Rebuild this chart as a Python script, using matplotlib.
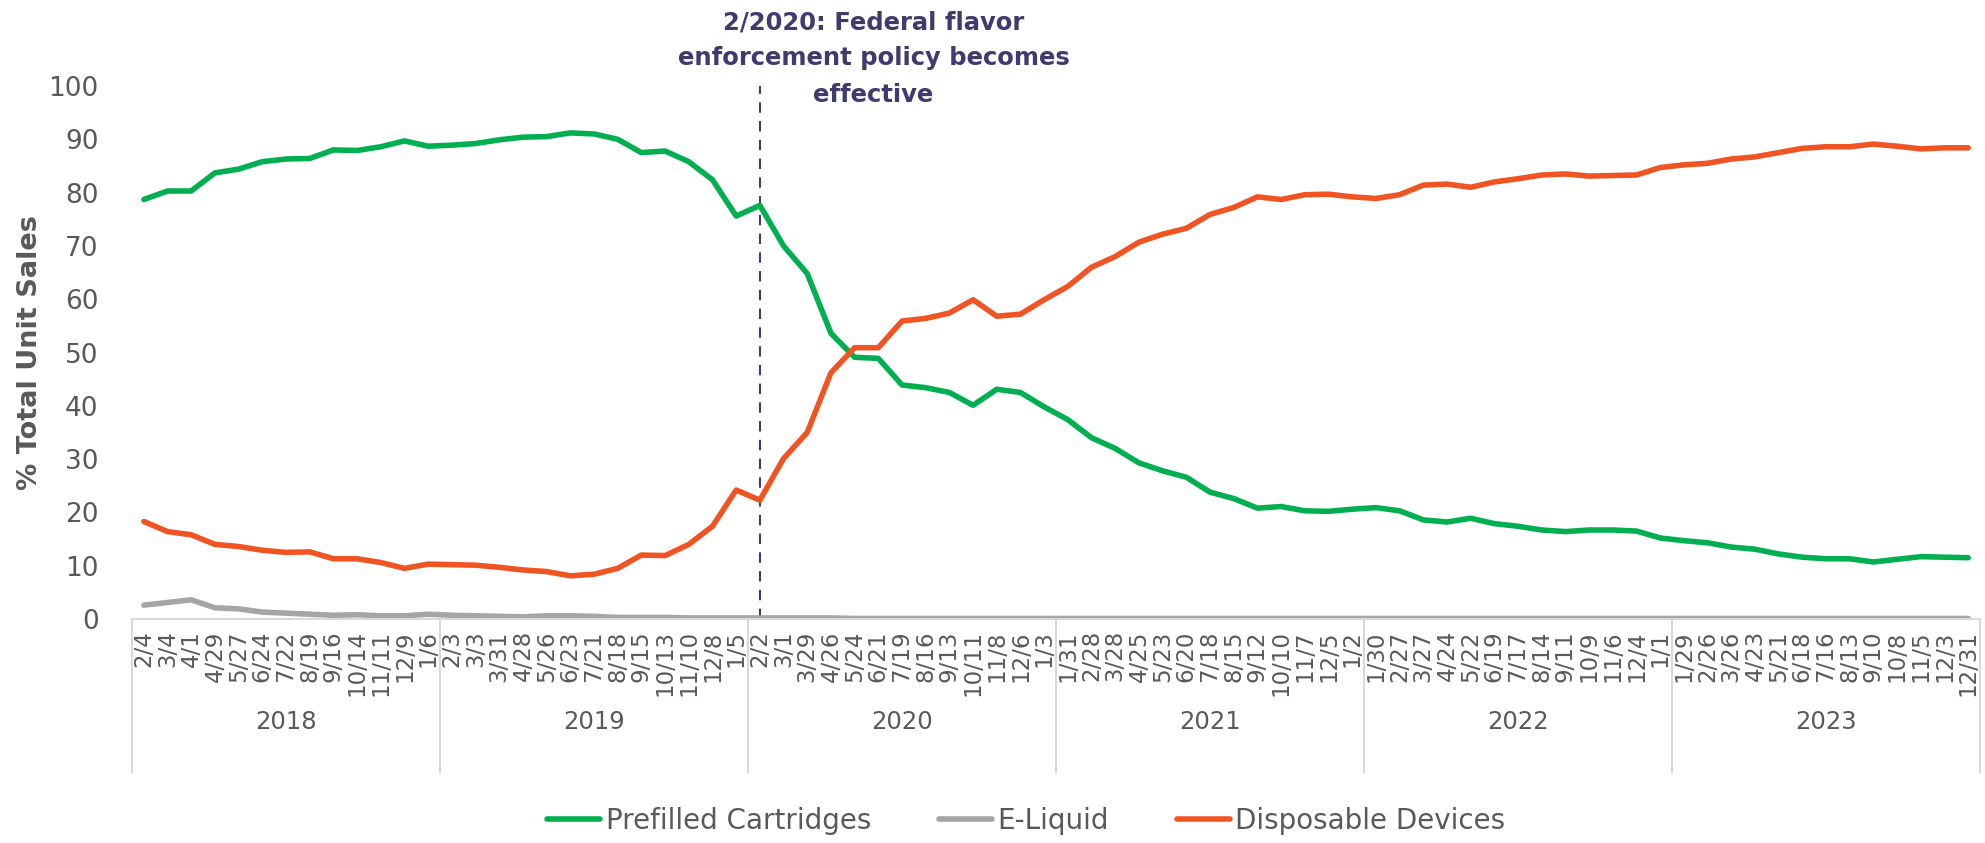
import numpy as np
import matplotlib
matplotlib.use("Agg")
import matplotlib.pyplot as plt
from matplotlib import transforms

# 4-week periods, labelled by end date
dates = ["2/4", "3/4", "4/1", "4/29", "5/27", "6/24", "7/22", "8/19", "9/16", "10/14", "11/11", "12/9", "1/6",
         "2/3", "3/3", "3/31", "4/28", "5/26", "6/23", "7/21", "8/18", "9/15", "10/13", "11/10", "12/8", "1/5",
         "2/2", "3/1", "3/29", "4/26", "5/24", "6/21", "7/19", "8/16", "9/13", "10/11", "11/8", "12/6", "1/3",
         "1/31", "2/28", "3/28", "4/25", "5/23", "6/20", "7/18", "8/15", "9/12", "10/10", "11/7", "12/5", "1/2",
         "1/30", "2/27", "3/27", "4/24", "5/22", "6/19", "7/17", "8/14", "9/11", "10/9", "11/6", "12/4", "1/1",
         "1/29", "2/26", "3/26", "4/23", "5/21", "6/18", "7/16", "8/13", "9/10", "10/8", "11/5", "12/3", "12/31"]
years = ["2018", "2019", "2020", "2021", "2022", "2023"]
per_year = 13

prefilled = [78.7, 80.3, 80.3, 83.7, 84.4, 85.8, 86.3, 86.4, 88.0, 87.9, 88.6, 89.7, 88.7,
             88.9, 89.2, 89.9, 90.4, 90.5, 91.2, 91.0, 90.0, 87.5, 87.8, 85.8, 82.4, 75.6,
             77.6, 70.0, 64.8, 53.6, 49.1, 48.9, 43.9, 43.4, 42.5, 40.1, 43.1, 42.5, 39.8,
             37.4, 34.0, 32.0, 29.3, 27.8, 26.6, 23.8, 22.6, 20.8, 21.1, 20.3, 20.2, 20.6,
             20.9, 20.3, 18.6, 18.2, 18.9, 17.9, 17.4, 16.7, 16.4, 16.7, 16.7, 16.5, 15.2,
             14.7, 14.3, 13.5, 13.1, 12.2, 11.6, 11.3, 11.3, 10.7, 11.2, 11.7, 11.6, 11.5]
eliquid = [2.6, 3.1, 3.6, 2.1, 1.9, 1.3, 1.1, 0.9, 0.7, 0.8, 0.6, 0.6, 0.9,
           0.7, 0.6, 0.5, 0.4, 0.6, 0.6, 0.5, 0.3, 0.3, 0.3, 0.2, 0.2, 0.2,
           0.2, 0.2, 0.2, 0.2, 0.1, 0.1, 0.1, 0.1, 0.1, 0.1, 0.1, 0.1, 0.1,
           0.1, 0.1, 0.1, 0.1, 0.1, 0.1, 0.1, 0.1, 0.1, 0.1, 0.1, 0.1, 0.1,
           0.1, 0.1, 0.1, 0.1, 0.1, 0.1, 0.1, 0.1, 0.1, 0.1, 0.1, 0.1, 0.1,
           0.1, 0.1, 0.1, 0.1, 0.1, 0.1, 0.1, 0.1, 0.1, 0.1, 0.1, 0.1, 0.1]
disposable = [18.3, 16.4, 15.8, 14.0, 13.6, 12.9, 12.5, 12.6, 11.3, 11.3, 10.6, 9.5, 10.3,
              10.2, 10.1, 9.7, 9.2, 8.9, 8.1, 8.4, 9.5, 12.0, 11.9, 14.0, 17.4, 24.2,
              22.3, 30.1, 35.0, 46.2, 50.9, 50.9, 55.9, 56.4, 57.4, 59.9, 56.8, 57.2, 59.9,
              62.4, 66.0, 68.0, 70.7, 72.2, 73.3, 75.9, 77.2, 79.2, 78.7, 79.6, 79.7, 79.2,
              78.9, 79.6, 81.4, 81.6, 81.0, 82.0, 82.6, 83.3, 83.5, 83.1, 83.2, 83.3, 84.7,
              85.2, 85.5, 86.3, 86.7, 87.5, 88.3, 88.6, 88.6, 89.1, 88.7, 88.2, 88.4, 88.4]
policy_idx = dates.index("2/2", 13)
note = "2/2020: Federal flavor\nenforcement policy becomes\neffective"

text_col = "#595959"
navy = "#3F3B6E"

fig = plt.figure(figsize=(19.85, 8.43), dpi=100)
ax = fig.add_axes([0.0665, 0.2657, 0.931, 0.6323])

x = np.arange(len(dates))
ax.plot(x, prefilled, color="#00B050", lw=4, solid_capstyle="round", label="Prefilled Cartridges")
ax.plot(x, eliquid, color="#A5A5A5", lw=4, solid_capstyle="round", label="E-Liquid")
ax.plot(x, disposable, color="#F05423", lw=4, solid_capstyle="round", label="Disposable Devices")

ax.plot([policy_idx, policy_idx], [0, 100], color=navy, lw=1.5, ls=(0, (5, 4)), zorder=1)

ax.set_xlim(-0.5, len(dates) - 0.5)
ax.set_ylim(0, 100)
ax.set_yticks(range(0, 101, 10))
ax.tick_params(axis="y", length=0, pad=24, labelsize=19, labelcolor=text_col)
ax.set_xticks(x)
ax.set_xticklabels(dates, rotation=90, fontsize=16.5, color=text_col)
ax.tick_params(axis="x", length=0, pad=8)

for s in ["top", "right", "left"]:
    ax.spines[s].set_visible(False)
ax.spines["bottom"].set_color("#D9D9D9")
ax.spines["bottom"].set_linewidth(1.5)

ax.set_ylabel("% Total Unit Sales", fontsize=19.5, fontweight="bold", color=text_col)
ax.yaxis.set_label_coords(-0.048, 0.5)

# year group level of the category axis
trans = transforms.blended_transform_factory(ax.transData, ax.transAxes)
for k in range(len(years) + 1):
    bx = k * per_year - 0.5
    ax.plot([bx, bx], [0, -0.287], transform=trans, color="#D9D9D9", lw=1.5, clip_on=False)
for k, yr in enumerate(years):
    ax.text(k * per_year + (per_year - 1) / 2, -0.193, yr, transform=trans,
            ha="center", va="center", fontsize=17.5, color=text_col)

fig.text(0.44, 0.988, note, ha="center", va="top", fontsize=17.5, fontweight="bold",
         color=navy, linespacing=1.65)

fig.legend(loc="center", bbox_to_anchor=(0.517, 0.026), ncol=3, frameon=False,
           fontsize=20, handlelength=1.9, handletextpad=0.2, columnspacing=2.45,
           labelcolor=text_col)

fig.savefig("out.png", dpi=100)
